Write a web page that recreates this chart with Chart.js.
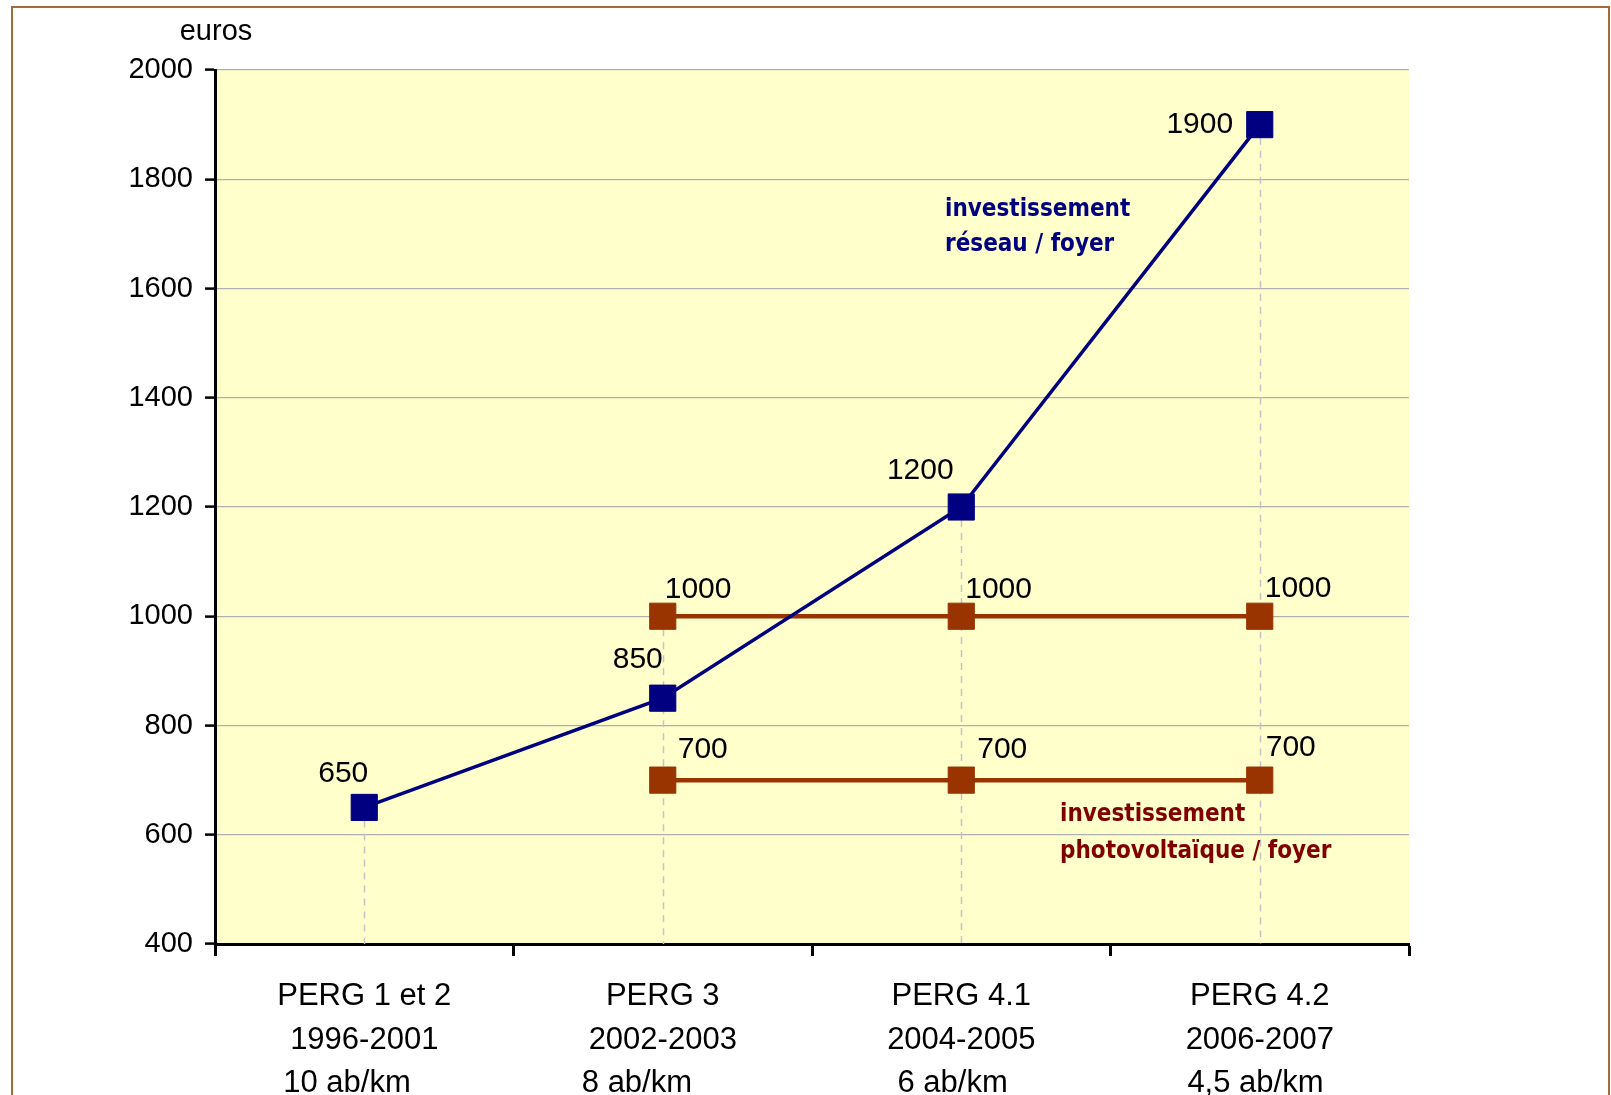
<!DOCTYPE html>
<html>
<head>
<meta charset="utf-8">
<script src="https://cdn.jsdelivr.net/npm/chart.js@4/dist/chart.umd.min.js"></script>
<style>
  html, body { margin:0; padding:0; background:#fff; overflow:hidden; }
  #wrap { position:absolute; left:0; top:0; width:1611px; height:1095px; }
  #frame { position:absolute; left:11px; top:6px; width:1595px; height:1200px; border:2px solid #A26B3C; pointer-events:none; }
</style>
</head>
<body>
<div id="wrap"><canvas id="c"></canvas></div>
<div id="frame"></div>
<script>
const categories = [
  ['PERG 1 et 2', '1996-2001', '10 ab/km    '],
  ['PERG 3', '2002-2003', '8 ab/km      '],
  ['PERG 4.1', '2004-2005', '6 ab/km  '],
  ['PERG 4.2', '2006-2007', '4,5 ab/km ']
];
const reseau = [650, 850, 1200, 1900];
const pvHigh = [null, 1000, 1000, 1000];
const pvLow = [null, 700, 700, 700];
const yTicks = [400, 600, 800, 1000, 1200, 1400, 1600, 1800, 2000];

const BLUE = '#000080', BROWN = '#993300';
const FONT = "'Liberation Sans', Arial, sans-serif";

// label placement per dataset: [dx, dy, align]
const labelPlace = [
  [[-21,-34,'center'], [-25,-38,'center'], [-41,-36,'center'], [-60,0,'center']],
  [null, [2,-27,'left'], [4,-27,'left'], [5,-28,'left']],
  [null, [15,-30,'left'], [16,-30,'left'], [6,-32,'left']]
];

const decor = {
  id:'decor',
  beforeDraw(chart) {
    const {ctx, chartArea:a} = chart;
    ctx.save();
    ctx.fillStyle = '#FFFFCC';
    ctx.fillRect(a.left, a.top, a.right - a.left, a.bottom - a.top);
    ctx.restore();
  },
  beforeDatasetsDraw(chart) {
    const {ctx, chartArea:a, scales:{x, y}} = chart;
    ctx.save();
    ctx.strokeStyle = '#C4C4CC';
    ctx.lineWidth = 1.5;
    ctx.setLineDash([7, 6]);
    categories.forEach((c, i) => {
      const vals = chart.data.datasets.map(d => d.data[i]).filter(v => v != null);
      const top = Math.max(...vals);
      const px = Math.round(x.getPixelForValue(i)) + 0.5;
      ctx.beginPath();
      ctx.moveTo(px, y.getPixelForValue(top));
      ctx.lineTo(px, a.bottom);
      ctx.stroke();
    });
    ctx.restore();
  },
  afterDatasetsDraw(chart) {
    const {ctx, chartArea:a} = chart;
    ctx.save();
    ctx.font = '30px ' + FONT;
    ctx.fillStyle = '#000';
    ctx.textBaseline = 'middle';
    chart.data.datasets.forEach((d, di) => {
      const meta = chart.getDatasetMeta(di);
      d.data.forEach((v, i) => {
        if (v == null) return;
        const p = meta.data[i];
        const [dx, dy, al] = labelPlace[di][i];
        ctx.textAlign = al;
        ctx.fillText(String(v), p.x + dx, p.y + dy);
      });
    });
    // series captions
    ctx.font = 'bold 24px "DejaVu Sans Condensed", "DejaVu Sans", Verdana, sans-serif';
    ctx.textAlign = 'left';
    ctx.fillStyle = BLUE;
    ctx.fillText('investissement', a.left + 730, 210);
    ctx.fillText('réseau / foyer', a.left + 730, 245);
    ctx.fillStyle = '#800000';
    ctx.fillText('investissement', a.left + 845, 815);
    ctx.fillText('photovoltaïque / foyer', a.left + 845, 852);
    // unit label
    ctx.font = '29px ' + FONT;
    ctx.fillStyle = '#000';
    ctx.textAlign = 'center';
    ctx.fillText('euros', a.left + 1, 32);
    ctx.restore();
  }
};

const pointStyle = (color) => ({
  borderColor: color, backgroundColor: color,
  pointStyle: 'rect', pointRadius: 18.5, pointHoverRadius: 18.5,
  pointBackgroundColor: color, pointBorderColor: color, pointBorderWidth: 1,
  tension: 0, fill: false, spanGaps: false
});

new Chart(document.getElementById('c'), {
  type: 'line',
  data: {
    labels: categories,
    datasets: [
      { label: 'investissement réseau / foyer', data: reseau, borderWidth: 3.5, ...pointStyle(BLUE) },
      { label: 'investissement photovoltaïque / foyer', data: pvHigh, borderWidth: 4.5, ...pointStyle(BROWN) },
      { label: 'investissement photovoltaïque / foyer (bas)', data: pvLow, borderWidth: 4.5, ...pointStyle(BROWN) }
    ]
  },
  options: {
    responsive: true, maintainAspectRatio: false, animation: false,
    layout: { padding: { top: 70, right: 202, left: 0, bottom: 0 } },
    plugins: { legend: { display: false }, tooltip: { enabled: false } },
    scales: {
      x: {
        offset: true,
        grid: { offset: true, drawOnChartArea: false, drawTicks: true, tickLength: 12, tickColor: '#000', tickWidth: 3 },
        border: { display: true, color: '#000', width: 3 },
        ticks: { color: '#000', font: { family: FONT, size: 31, lineHeight: 1.4 }, padding: 19, maxRotation: 0, autoSkip: false },
        afterFit: s => { s.height = 151; }
      },
      y: {
        min: 400, max: 2000,
        afterBuildTicks: s => { s.ticks = yTicks.map(v => ({ value: v })); },
        grid: { color: '#B0B0B0', lineWidth: 1.2, tickLength: 10, tickColor: '#000', tickWidth: 2.5 },
        border: { display: true, color: '#000', width: 3 },
        ticks: { color: '#000', font: { family: FONT, size: 29 }, padding: 12, callback: v => String(v) },
        afterFit: s => { s.width = 215; }
      }
    }
  },
  plugins: [decor]
});
</script>
</body>
</html>
